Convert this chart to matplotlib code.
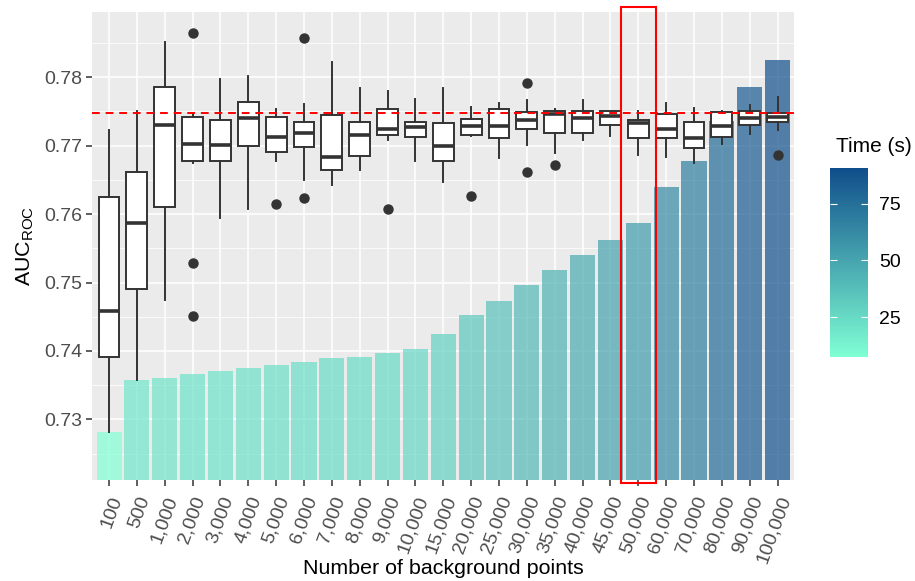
import numpy as np
import matplotlib
matplotlib.use("Agg")
import matplotlib.pyplot as plt
from matplotlib.colors import LinearSegmentedColormap, Normalize
from matplotlib.cm import ScalarMappable
from matplotlib.patches import Rectangle

plt.rcParams['font.family'] = ['Liberation Sans', 'DejaVu Sans']
plt.rcParams['mathtext.default'] = 'regular'

# Number of background points (x categories)
categories = ["100", "500", "1,000", "2,000", "3,000", "4,000", "5,000", "6,000",
              "7,000", "8,000", "9,000", "10,000", "15,000", "20,000", "25,000",
              "30,000", "35,000", "40,000", "45,000", "50,000", "60,000", "70,000",
              "80,000", "90,000", "100,000"]

# computation time (s) -> bar height and fill
time_s = [7.3, 19.1, 19.4, 20.4, 21.0, 21.7, 22.5, 23.1, 23.9, 24.2, 25.1, 26.1,
          29.4, 33.6, 36.8, 40.3, 43.7, 47.1, 50.5, 54.3, 62.3, 68.2, 77.2, 84.9, 90.9]

# AUC_ROC boxplot summaries
whis_lo = [0.7282, 0.7358, 0.7474, 0.7674, 0.7595, 0.7607, 0.7678, 0.7650, 0.7643,
           0.7665, 0.7709, 0.7678, 0.7647, 0.7714, 0.7682, 0.7701, 0.7689, 0.7709,
           0.7714, 0.7686, 0.7684, 0.7674, 0.7703, 0.7717, 0.7723]
q1 = [0.7391, 0.7490, 0.7610, 0.7677, 0.7678, 0.7699, 0.7691, 0.7698, 0.7664,
      0.7685, 0.7716, 0.7712, 0.7677, 0.7716, 0.7711, 0.7724, 0.7719, 0.7719,
      0.7730, 0.7711, 0.7711, 0.7696, 0.7712, 0.7730, 0.7734]
median = [0.7459, 0.7587, 0.7730, 0.7702, 0.7701, 0.7741, 0.7712, 0.7718, 0.7684,
          0.7716, 0.7724, 0.7728, 0.7699, 0.7729, 0.7729, 0.7738, 0.7747, 0.7740,
          0.7744, 0.7733, 0.7725, 0.7711, 0.7729, 0.7741, 0.7742]
q3 = [0.7625, 0.7662, 0.7786, 0.7742, 0.7737, 0.7764, 0.7742, 0.7734, 0.7745,
      0.7734, 0.7754, 0.7735, 0.7733, 0.7739, 0.7754, 0.7749, 0.7750, 0.7751,
      0.7750, 0.7738, 0.7746, 0.7734, 0.7749, 0.7751, 0.7748]
whis_hi = [0.7723, 0.7750, 0.7851, 0.7747, 0.7798, 0.7802, 0.7753, 0.7761, 0.7822,
           0.7785, 0.7780, 0.7768, 0.7785, 0.7756, 0.7763, 0.7767, 0.7753, 0.7767,
           0.7751, 0.7750, 0.7762, 0.7755, 0.7750, 0.7760, 0.7771]
outliers = [[], [], [], [0.7865, 0.7528, 0.7451], [], [], [0.7615], [0.7858, 0.7624],
            [], [], [0.7607], [], [], [0.7627], [], [0.7791, 0.7661], [0.7672], [],
            [], [], [], [], [], [], [0.7687]]

reference_auc = 0.7748
highlight = "50,000"

# time is drawn on the AUC axis through a linear rescale (bars start below the panel)
time_axis_range = (0.7281, 0.7825)

fig = plt.figure(figsize=(9.15, 5.81), dpi=100)
ax = fig.add_axes([0.1009, 0.1738, 0.7672, 0.8061])
ax.set_facecolor('#EBEBEB')
for s in ax.spines.values():
    s.set_visible(False)

x = np.arange(len(categories))
t = np.array(time_s)
cmap = LinearSegmentedColormap.from_list('time', ['#7FFFD4', '#104E8B'])
norm = Normalize(t.min(), t.max())
bar_top = time_axis_range[0] + (t - t.min()) / (t.max() - t.min()) * (time_axis_range[1] - time_axis_range[0])

ax.bar(x, bar_top, width=0.9, color=cmap(norm(t)), alpha=0.7, zorder=2)

stats = []
for i in range(len(categories)):
    stats.append(dict(whislo=whis_lo[i], q1=q1[i], med=median[i], q3=q3[i],
                      whishi=whis_hi[i], fliers=outliers[i]))
ax.bxp(stats, positions=x, widths=0.75, showcaps=False, patch_artist=True,
       manage_ticks=False, zorder=3,
       boxprops=dict(facecolor='white', edgecolor='#333333', linewidth=1.4),
       medianprops=dict(color='#333333', linewidth=2.6, solid_capstyle='butt'),
       whiskerprops=dict(color='#333333', linewidth=1.4),
       flierprops=dict(marker='o', markerfacecolor='#333333', markeredgecolor='#333333',
                       markersize=6.5))

ax.axhline(reference_auc, color='red', ls=(0, (4, 3)), lw=1.4, zorder=4)

hi = categories.index(highlight)
ax.add_patch(Rectangle((hi - 0.62, 0.72064), 1.24, 0.0697, fill=False, ec='red',
                       lw=1.5, clip_on=False, zorder=5))

ax.set_xlim(-0.6, len(categories) - 0.4)
ax.set_ylim(0.72113, 0.78959)

yt = [0.73, 0.74, 0.75, 0.76, 0.77, 0.78]
ax.set_yticks(yt)
ax.set_yticklabels(["%.2f" % v for v in yt])
ax.set_yticks(np.arange(0.725, 0.79, 0.01), minor=True)
ax.set_xticks(x)
ax.set_xticklabels(categories, rotation=70, ha='right', va='top', rotation_mode='anchor')

ax.set_axisbelow(True)
ax.grid(which='major', color='white', lw=1.1)
ax.grid(which='minor', axis='y', color='white', lw=0.55)
ax.tick_params(which='major', color='#333333', length=4, width=1.1,
               labelcolor='#4D4D4D', labelsize=14, pad=3)
ax.tick_params(axis='x', pad=6)
ax.tick_params(which='minor', length=0)

ax.set_xlabel('Number of background points', fontsize=15.4, va='center')
ax.xaxis.set_label_coords(0.5, -0.188)
ax.set_ylabel('AUC$_{ROC}$', fontsize=15.4, labelpad=6)

cax = fig.add_axes([0.9071, 0.3855, 0.0415, 0.3253])
cb = fig.colorbar(ScalarMappable(norm=norm, cmap=cmap), cax=cax)
cb.outline.set_visible(False)
cb.set_ticks([25, 50, 75])
cax.yaxis.set_ticks_position('both')
cax.tick_params(direction='in', color='white', length=5, width=0.8,
                labelleft=False, labelright=True, labelcolor='black', labelsize=14, pad=8)
fig.text(0.9137, 1 - 146 / 581, 'Time (s)', fontsize=15, va='center', ha='left')

fig.savefig('out.png', dpi=100)
